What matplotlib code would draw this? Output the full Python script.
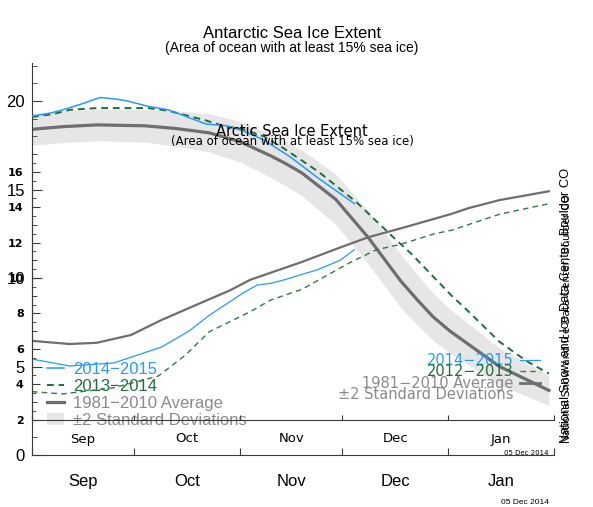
import numpy as np
import matplotlib.pyplot as plt
from matplotlib.ticker import MultipleLocator, FixedLocator, NullFormatter
from matplotlib.lines import Line2D
from matplotlib.patches import Patch

# x axis: days since 1 Sep
month_edges = [0, 30, 61, 91, 122, 153]
month_mid = [15, 45.5, 76, 106.5, 137.5]
month_names = ["Sep", "Oct", "Nov", "Dec", "Jan"]

# Antarctic (outer chart), million sq km
ant_blue_day = [0, 5, 9, 14, 20, 25, 28, 34, 40, 45.5, 51, 57, 62, 68, 76, 83.5, 94.5]
ant_blue = [19.15, 19.3, 19.5, 19.8, 20.2, 20.1, 20.0, 19.7, 19.5, 19.1, 18.7, 18.6, 18.3,
            17.8, 16.8, 15.7, 14.2]

ant_green_day = [0, 6, 11, 19, 29, 34, 40, 45, 51, 56, 62, 68, 74, 84, 95, 107, 111, 117,
                 123, 128, 137, 145, 151.5]
ant_green = [19.1, 19.25, 19.5, 19.6, 19.6, 19.6, 19.45, 19.2, 18.9, 18.6, 18.4, 18.0, 17.3,
             16.0, 14.3, 12.1, 11.4, 10.2, 9.0, 8.1, 6.4, 5.3, 4.6]

ant_avg_day = [0, 9, 19, 33, 42, 52, 61, 70, 74, 79, 89, 98.5, 108, 113, 117.6, 122.5,
               127.6, 137, 151.5]
ant_avg = [18.4, 18.55, 18.65, 18.6, 18.45, 18.2, 17.7, 16.9, 16.5, 15.95, 14.45, 12.3, 9.85,
           8.75, 7.8, 7.0, 6.3, 5.0, 3.65]

ant_sd_day = [0, 30, 55, 80, 95, 108, 125, 151.5]
ant_sd = [0.9, 0.9, 1.1, 1.3, 1.5, 1.5, 1.2, 0.85]

# Arctic (inner chart)
arc_blue_day = [0, 11, 24, 38, 46, 52, 58, 62, 66, 70, 74, 79, 83.5, 90.3, 94.5]
arc_blue = [5.42, 5.03, 5.2, 6.1, 7.0, 7.9, 8.66, 9.17, 9.6, 9.7, 9.9, 10.2, 10.45, 11.0, 11.6]

arc_green_day = [0, 9, 24, 37, 45, 52, 58, 64, 70, 79, 93, 101, 108, 118, 123, 137, 151.5]
arc_green = [3.58, 3.45, 3.8, 4.46, 5.65, 6.97, 7.53, 8.1, 8.76, 9.35, 10.85, 11.6, 11.9,
             12.5, 12.7, 13.6, 14.2]

arc_avg_day = [0, 11, 19, 29, 38, 48, 58, 64, 70, 79, 90, 98.5, 108, 122.6, 128, 137, 151.5]
arc_avg = [6.45, 6.27, 6.34, 6.78, 7.63, 8.47, 9.3, 9.9, 10.3, 10.9, 11.7, 12.3, 12.8, 13.6,
           13.95, 14.4, 14.9]

BLUE = "#2799ff"
GREEN = "#1f6e3a"
GRAY = "#6e6e6e"
BAND = "#e6e6e6"
OUTER_FONT = "Liberation Sans"
INNER_FONT = "DejaVu Sans"

W, H = 593, 507
fig = plt.figure(figsize=(W / 100, H / 100), dpi=100)


def box(l, t, r, b):
    return [l / W, 1 - b / H, (r - l) / W, (b - t) / H]


px = 17.7  # pixels per million km2 on both charts

# ---- outer chart (Antarctic)
ax = fig.add_axes(box(32, 63, 554, 455))
ax.set_facecolor("none")
ax.set_xlim(0, 153)
ax.set_ylim(0, (455 - 63) / px)

band_x = np.array(ant_avg_day)
sd = np.interp(band_x, ant_sd_day, ant_sd)
ax.fill_between(band_x, np.array(ant_avg) - sd, np.array(ant_avg) + sd,
                color=BAND, lw=0, zorder=1)
ax.plot(ant_avg_day, ant_avg, color=GRAY, lw=2.3, zorder=2, solid_joinstyle="round")
ax.plot(ant_green_day, ant_green, color=GREEN, lw=1.4, ls=(0, (3.5, 2.5)), zorder=3)
ax.plot(ant_blue_day, ant_blue, color=BLUE, lw=1.1, zorder=4)

for s in ["top", "right"]:
    ax.spines[s].set_visible(False)
for s in ["left", "bottom"]:
    ax.spines[s].set_color("#3a3a3a")
ax.yaxis.set_major_locator(MultipleLocator(5))
ax.yaxis.set_minor_locator(MultipleLocator(1))
ax.tick_params(axis="y", which="major", direction="in", length=7, color="#3a3a3a",
               labelsize=12, pad=5)
ax.tick_params(axis="y", which="minor", direction="in", length=3.5, color="#3a3a3a")
ax.xaxis.set_major_locator(FixedLocator(month_edges))
ax.xaxis.set_major_formatter(NullFormatter())
ax.xaxis.set_minor_locator(FixedLocator(month_mid))
ax.xaxis.set_minor_formatter(plt.FixedFormatter(month_names))
ax.tick_params(axis="x", which="major", direction="in", length=5, color="#3a3a3a")
ax.tick_params(axis="x", which="minor", length=0, pad=14, labelsize=12)
for lab in ax.get_yticklabels() + ax.get_xticklabels(minor=True):
    lab.set_fontfamily(OUTER_FONT)

ax_handles = [Line2D([], [], color=BLUE, lw=1.1),
              Line2D([], [], color=GREEN, lw=1.4, ls=(0, (3.5, 2.5))),
              Line2D([], [], color=GRAY, lw=2.3),
              Patch(facecolor=BAND, edgecolor="none")]
ax.legend(ax_handles, ["2014\u22122015", "2013\u22122014", "1981\u22122010 Average",
                       "\u00b12 Standard Deviations"],
          loc="lower left", bbox_to_anchor=(47 / W, 1 - 428 / H),
          bbox_transform=fig.transFigure, frameon=False,
          prop={"family": OUTER_FONT, "size": 12},
          labelcolor=[BLUE, GREEN, "#8a8a8a", "#8a8a8a"],
          handlelength=1.0, handletextpad=0.55, labelspacing=0.12,
          borderpad=0, borderaxespad=0)

fig.text(292 / W, 1 - 33 / H, "Antarctic Sea Ice Extent", ha="center", va="center",
         fontsize=12, family=OUTER_FONT)
fig.text(292 / W, 1 - 48 / H, "(Area of ocean with at least 15% sea ice)", ha="center",
         va="center", fontsize=10, family=OUTER_FONT)
fig.text(549 / W, 1 - 503 / H, "05 Dec 2014", ha="right", va="center", fontsize=6,
         family=OUTER_FONT)

# ---- inner chart (Arctic), laid over the outer one
ax2 = fig.add_axes(box(32, 152, 554, 420))
ax2.set_facecolor("none")
ax2.set_xlim(0, 153)
ax2.set_ylim((455 - 420) / px, (455 - 152) / px)
ax2.plot(arc_avg_day, arc_avg, color=GRAY, lw=1.6)
ax2.plot(arc_green_day, arc_green, color="#2f7a48", lw=1.0, ls=(0, (4, 3)))
ax2.plot(arc_blue_day, arc_blue, color=BLUE, lw=0.9)

for s in ["top", "right"]:
    ax2.spines[s].set_visible(False)
for s in ["left", "bottom"]:
    ax2.spines[s].set_color("#3a3a3a")
ax2.yaxis.set_major_locator(MultipleLocator(2))
ax2.yaxis.set_minor_locator(MultipleLocator(0.5))
ax2.tick_params(axis="y", which="major", direction="in", length=5.5, color="#3a3a3a",
                labelsize=8, pad=6)
ax2.tick_params(axis="y", which="minor", direction="in", length=3, color="#3a3a3a")
ax2.xaxis.set_major_locator(FixedLocator(month_edges))
ax2.xaxis.set_major_formatter(NullFormatter())
ax2.xaxis.set_minor_locator(FixedLocator(month_mid))
ax2.xaxis.set_minor_formatter(plt.FixedFormatter(month_names))
ax2.tick_params(axis="x", which="major", direction="in", length=3.5, color="#3a3a3a")
ax2.tick_params(axis="x", which="minor", length=0, pad=9, labelsize=9.5)
for lab in ax2.get_yticklabels():
    lab.set_fontfamily(INNER_FONT)
    lab.set_fontweight("bold")
for lab in ax2.get_xticklabels(minor=True):
    lab.set_fontfamily(INNER_FONT)

ax2_handles = [Line2D([], [], color=BLUE, lw=0.9),
               Line2D([], [], color="#2f7a48", lw=1.0, ls=(0, (4, 3))),
               Line2D([], [], color=GRAY, lw=2.0),
               Patch(facecolor="none", edgecolor="none")]
ax2.legend(ax2_handles, ["2014\u22122015", "2012\u22122013", "1981\u22122010 Average",
                         "\u00b12 Standard Deviations"],
           loc="lower right", bbox_to_anchor=(540 / W, 1 - 402 / H),
           bbox_transform=fig.transFigure, frameon=False, markerfirst=False,
           prop={"family": INNER_FONT, "size": 10.5},
           labelcolor=[BLUE, GREEN, "#8a8a8a", "#8a8a8a"],
           handlelength=1.4, handletextpad=0.4, labelspacing=-0.25,
           borderpad=0, borderaxespad=0)

fig.text(292 / W, 1 - 132 / H, "Arctic Sea Ice Extent", ha="center", va="center",
         fontsize=10.5, family=INNER_FONT)
fig.text(292 / W, 1 - 142 / H, "(Area of ocean with at least 15% sea ice)", ha="center",
         va="center", fontsize=8.5, family=INNER_FONT)
fig.text(549 / W, 1 - 453 / H, "05 Dec 2014", ha="right", va="center", fontsize=5,
         family=INNER_FONT)

# NSIDC credit, printed twice by the two charts
fig.text(566 / W, 1 - 443 / H, "National Snow and Ice Data Center, Boulder CO",
         rotation=90, ha="center", va="bottom", fontsize=9.3, family=OUTER_FONT)
fig.text(567 / W, 1 - 443 / H, "National Snow and Ice Data Center, Boulder CO",
         rotation=90, ha="center", va="bottom", fontsize=7.5, family=INNER_FONT)

fig.savefig("out.png", dpi=100)
